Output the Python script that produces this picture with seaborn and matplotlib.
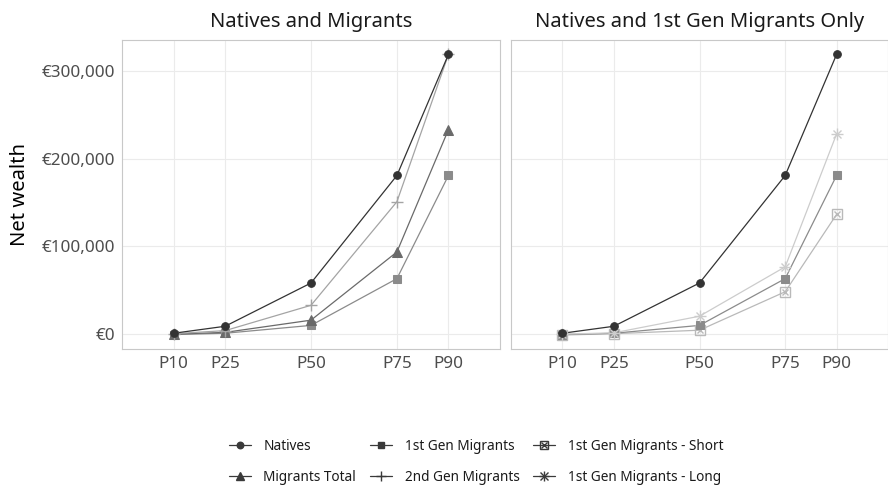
import matplotlib
matplotlib.use("Agg")
import matplotlib.pyplot as plt
import seaborn as sns
import pandas as pd
from matplotlib.lines import Line2D
from matplotlib.legend_handler import HandlerTuple
from matplotlib.ticker import FuncFormatter

sns.set_theme(style="white")
plt.rcParams['font.family'] = ['Noto Sans', 'DejaVu Sans']

percentile_labels = ["P10", "P25", "P50", "P75", "P90"]
percentile_pos = [10, 25, 50, 75, 90]

natives = [500, 8500, 58000, 181000, 319500]
migrants_total = [-500, 1500, 15500, 93500, 233500]
first_gen = [-1000, 500, 9500, 63000, 181000]
second_gen = [0, 3500, 32500, 151000, 319500]
first_gen_short = [-1500, 0, 4000, 48000, 136500]
first_gen_long = [-500, 1000, 20000, 76500, 228500]

left_title = "Natives and Migrants"
right_title = "Natives and 1st Gen Migrants Only"
y_label = "Net wealth"
y_ticks = [0, 100000, 200000, 300000]

styles = {
    "Natives": dict(color="#333333", markers=["o"]),
    "Migrants Total": dict(color="#6a6a6a", markers=["^"]),
    "1st Gen Migrants": dict(color="#8b8b8b", markers=["s"]),
    "2nd Gen Migrants": dict(color="#a4a4a4", markers=["+"]),
    "1st Gen Migrants - Short": dict(color="#b9b9b9", markers=["sq_open", "xs"]),
    "1st Gen Migrants - Long": dict(color="#cccccc", markers=["+", "x"]),
}

series = {
    "Natives": natives,
    "Migrants Total": migrants_total,
    "1st Gen Migrants": first_gen,
    "2nd Gen Migrants": second_gen,
    "1st Gen Migrants - Short": first_gen_short,
    "1st Gen Migrants - Long": first_gen_long,
}

left_series = ["1st Gen Migrants", "Migrants Total", "2nd Gen Migrants", "Natives"]
right_series = ["1st Gen Migrants - Short", "1st Gen Migrants", "1st Gen Migrants - Long", "Natives"]

fig = plt.figure(figsize=(8.88, 4.87), dpi=100)
W, H = 888, 487
axL = fig.add_axes([122 / W, 1 - 349 / H, 378 / W, 309 / H])
axR = fig.add_axes([511 / W, 1 - 349 / H, 377 / W, 309 / H])


def marker_kw(m, color):
    if m == "o":
        return dict(marker="o", markersize=5.5, markerfacecolor=color, markeredgecolor=color)
    if m == "^":
        return dict(marker="^", markersize=6.5, markerfacecolor=color, markeredgecolor=color)
    if m == "s":
        return dict(marker="s", markersize=5.5, markerfacecolor=color, markeredgecolor=color)
    if m == "+":
        return dict(marker="+", markersize=8, markeredgewidth=1.0, markeredgecolor=color)
    if m == "x":
        return dict(marker="x", markersize=6, markeredgewidth=1.0, markeredgecolor=color)
    if m == "xs":
        return dict(marker="x", markersize=4.5, markeredgewidth=1.0, markeredgecolor=color)
    if m == "sq_open":
        return dict(marker="s", markersize=7, markerfacecolor="none", markeredgewidth=1.0, markeredgecolor=color)


def draw(ax, names):
    for name in names:
        vals = series[name]
        st = styles[name]
        df = pd.DataFrame({"x": percentile_pos, "y": vals})
        sns.lineplot(data=df, x="x", y="y", ax=ax, color=st["color"], lw=0.9,
                     estimator=None, sort=False, zorder=3)
        for m in st["markers"]:
            kw = marker_kw(m, st["color"])
            sns.lineplot(data=df, x="x", y="y", ax=ax, linestyle="none",
                         estimator=None, sort=False, zorder=4, **kw)


draw(axL, left_series)
draw(axR, right_series)

for ax, title in [(axL, left_title), (axR, right_title)]:
    ax.set_xlim(-5, 105)
    ax.set_ylim(-17500, 336000)
    ax.set_xticks(percentile_pos)
    ax.set_xticklabels(percentile_labels)
    ax.set_yticks(y_ticks)
    ax.grid(True, color="#ebebeb", lw=0.8, zorder=0)
    ax.set_axisbelow(True)
    for s in ax.spines.values():
        s.set_color("#c8c8c8")
        s.set_linewidth(0.8)
    ax.tick_params(axis="both", length=0, labelsize=12.3, labelcolor="#4d4d4d", pad=5)
    ax.set_xlabel("")
    ax.set_ylabel("")
    ax.set_title(title, fontsize=14.5, color="#1a1a1a", pad=9)

axL.yaxis.set_major_formatter(FuncFormatter(lambda v, p: "€{:,.0f}".format(v)))
axR.set_yticklabels([])
axL.set_ylabel(y_label, fontsize=14.5, color="#000000", labelpad=8)

key_color = "#3a3a3a"
handles = []
order = ["Natives", "Migrants Total", "1st Gen Migrants", "2nd Gen Migrants",
         "1st Gen Migrants - Short", "1st Gen Migrants - Long"]
for name in order:
    parts = [Line2D([], [], color=key_color, lw=0.9)]
    for m in styles[name]["markers"]:
        kw = marker_kw(m, key_color)
        kw["markersize"] = kw["markersize"] * 0.85
        parts.append(Line2D([], [], linestyle="none", **kw))
    handles.append(tuple(parts))

fig.legend(handles, order, loc="center", bbox_to_anchor=(476 / W, 1 - 462 / H), ncol=3,
           frameon=False, fontsize=9.8, handler_map={tuple: HandlerTuple(ndivide=1, pad=0)},
           handlelength=1.6, columnspacing=1.0, labelspacing=1.15, handletextpad=0.95,
           labelcolor="#1a1a1a")

fig.savefig("out.png", dpi=100)
